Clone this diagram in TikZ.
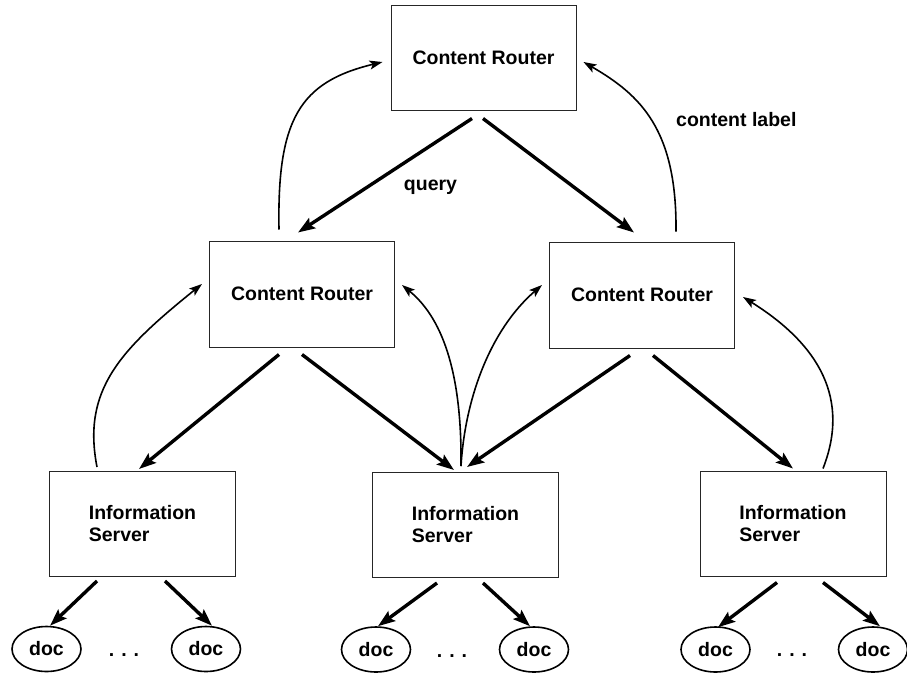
\documentclass[tikz,border=0pt]{standalone}
\usepackage{fontspec}
\setmainfont{Liberation Sans}
\usetikzlibrary{arrows.meta,calc,shapes.geometric}

\tikzset{
  labelfont/.style={font=\bfseries\fontsize{19.5}{22}\selectfont},
  routerbox/.style={draw=black!85, line width=1pt, minimum width=185pt, minimum height=106pt,
    inner sep=0pt, labelfont},
  serverbox/.style={draw=black!85, line width=1pt, minimum width=186pt, minimum height=105pt,
    inner sep=0pt, align=left, labelfont},
  docnode/.style={draw, ellipse, line width=1.6pt, minimum width=69pt, minimum height=45pt,
    inner sep=0pt, labelfont},
  querypath/.style={line width=3.4pt, -{Stealth[length=17pt,width=12pt,inset=3pt]}},
  labelpath/.style={line width=1.6pt, -{Stealth[length=13pt,width=9pt,inset=3pt]}},
  textlabel/.style={labelfont, inner sep=0pt, anchor=base},
}

\begin{document}
\begin{tikzpicture}[x=1pt, y=-1pt]
\useasboundingbox (0,0) rectangle (907,672);

% routers
\node[routerbox, minimum height=105pt] (top) at (483.5,57.5) {Content Router};
\node[routerbox] (ml) at (302,294) {Content Router};
\node[routerbox] (mr) at (642,295) {Content Router};

% information servers
\node[serverbox] (isl) at (142.5,524) {Information\\Server};
\node[serverbox] (ism) at (465.5,525) {Information\\Server};
\node[serverbox] (isr) at (793,523.5) {Information\\Server};

% documents
\node[docnode] (d1) at (46.5,649) {doc};
\node[docnode] (d2) at (206,649) {doc};
\node[docnode] (d3) at (376,649.5) {doc};
\node[docnode] (d4) at (534,649.5) {doc};
\node[docnode] (d5) at (715.5,649.5) {doc};
\node[docnode] (d6) at (873,649.5) {doc};
\node[textlabel] (e1) at (124,656) {.\hspace{7pt}.\hspace{7pt}.};
\node[textlabel] (e2) at (452,657) {.\hspace{7pt}.\hspace{7pt}.};
\node[textlabel] (e3) at (792,656) {.\hspace{7pt}.\hspace{7pt}.};

% labels
\node[textlabel] (q) at (430.5,190) {query};
\node[textlabel, anchor=base west] (cl) at (676,126) {content label};

% queries passed down the hierarchy
\draw[querypath] ($(top.south)+(-11.5,8)$) -- ($(ml.north)+(-4,-8)$);
\draw[querypath] ($(top.south)+(-0.5,8)$) -- ($(mr.north)+(-8,-9)$);
\draw[querypath] ($(ml.south)+(-23,7)$) -- ($(isl.north)+(-3.5,-2)$);
\draw[querypath] ($(ml.south)+(0,7)$) -- ($(ism.north)+(-11.5,-2)$);
\draw[querypath] ($(mr.south)+(-12,7)$) -- ($(ism.north)+(1.5,-5)$);
\draw[querypath] ($(mr.south)+(11,7)$) -- ($(isr.north)+(0,-2)$);

\draw[querypath] ($(isl.south)+(-45.5,4)$) -- ($(d1.north)+(3.5,0)$);
\draw[querypath] ($(isl.south)+(22.5,4)$) -- ($(d2.north)+(6,0)$);
\draw[querypath] ($(ism.south)+(-28.5,5)$) -- ($(d3.north)+(2,0)$);
\draw[querypath] ($(ism.south)+(17.5,5)$) -- ($(d4.north)+(-4,0)$);
\draw[querypath] ($(isr.south)+(-16,6)$) -- ($(d5.north)+(2.5,1)$);
\draw[querypath] ($(isr.south)+(30,6)$) -- ($(d6.north)+(7,0)$);

% content labels passed up the hierarchy
\draw[labelpath] ($(ml.north)+(-23,-11)$) .. controls +(-2,-110) and +(-83,20) .. ($(top.west)+(-8,4.5)$);
\draw[labelpath] ($(mr.north)+(34,-10)$) .. controls +(1,-102) and +(57,33) .. ($(top.east)+(7,4.5)$);
\draw[labelpath] ($(isl.north)+(-45.5,-4)$) .. controls +(-15,-77) and +(-82,66) .. ($(ml.west)+(-7,-10)$);
\draw[labelpath] ($(ism.north)+(-4.5,-6)$) .. controls +(1,-87) and +(43,35) .. ($(ml.east)+(7,-9)$);
\draw[labelpath] ($(ism.north)+(-4.5,-6)$) .. controls +(4,-67) and +(-52,45) .. ($(mr.west)+(-7,-10)$);
\draw[labelpath] ($(isr.north)+(30,-2)$) .. controls +(27,-69) and +(77,48) .. ($(mr.east)+(8,2)$);
\end{tikzpicture}
\end{document}
